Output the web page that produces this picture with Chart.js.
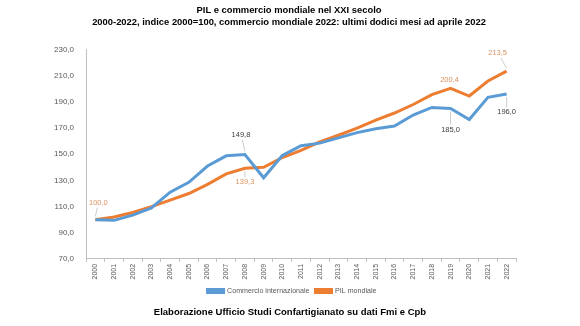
<!DOCTYPE html>
<html>
<head>
<meta charset="utf-8">
<script src="https://cdn.jsdelivr.net/npm/chart.js@4.4.0/dist/chart.umd.min.js"></script>
<style>
    body { margin: 0; background: #fff; }
    #wrap { width: 580px; height: 326px; }
</style>
</head>
<body>
<div id="wrap"><canvas id="chart" width="580" height="326"></canvas></div>
<script>
const years = ['2000', '2001', '2002', '2003', '2004', '2005', '2006', '2007', '2008', '2009', '2010', '2011',
    '2012', '2013', '2014', '2015', '2016', '2017', '2018', '2019', '2020', '2021', '2022'];
const commercio = [100.0, 99.5, 103.5, 109.0, 121.0, 128.5, 141.0, 148.8, 149.8, 132.0, 149.0, 156.5,
    158.5, 162.5, 166.5, 169.5, 171.5, 180.0, 185.8, 185.0, 176.5, 193.5, 196.0];
const pil = [100.0, 102.0, 105.5, 110.0, 115.0, 120.0, 127.0, 135.0, 139.3, 140.0, 147.5, 153.0,
    159.5, 164.5, 170.0, 176.0, 181.5, 188.0, 195.5, 200.4, 194.5, 206.0, 213.5];
const yTicks = [70, 90, 110, 130, 150, 170, 190, 210, 230];

// labelled points: series, index, offset of the label from the point
const callouts = [
    { series: 1, index: 0, dx: 3, dy: -17, color: '#D99260' },
    { series: 0, index: 8, dx: -4, dy: -20, color: '#404040' },
    { series: 1, index: 8, dx: 0, dy: 14, color: '#D99260' },
    { series: 1, index: 19, dx: -1, dy: -8, color: '#D99260' },
    { series: 0, index: 19, dx: 0, dy: 21, color: '#404040' },
    { series: 1, index: 22, dx: -9, dy: -18, color: '#D99260' },
    { series: 0, index: 22, dx: 0, dy: 18, color: '#404040' }
];

const FONT = '"Liberation Sans", Arial, sans-serif';

function fmt(v) {
    return v.toFixed(1).replace('.', ',');
}

const calloutPlugin = {
    id: 'callouts',
    afterDatasetsDraw(chart) {
        const ctx = chart.ctx;
        const xs = chart.scales.x;
        const ys = chart.scales.y;
        ctx.save();
        ctx.font = '7.5px ' + FONT;
        ctx.textAlign = 'center';
        ctx.textBaseline = 'middle';
        callouts.forEach(c => {
            const v = chart.data.datasets[c.series].data[c.index];
            const px = xs.getPixelForValue(c.index);
            const py = ys.getPixelForValue(v);
            const lx = px + c.dx;
            const ly = py + c.dy;
            if (Math.abs(c.dy) > 12) {
                ctx.strokeStyle = '#BFBFBF';
                ctx.lineWidth = 0.8;
                ctx.beginPath();
                ctx.moveTo(lx + (px - lx) * 0.35, ly + (c.dy < 0 ? 5 : -5));
                ctx.lineTo(px, py + (c.dy < 0 ? -3 : 3));
                ctx.stroke();
            }
            ctx.fillStyle = c.color;
            ctx.fillText(fmt(v), lx, ly);
        });
        ctx.restore();
    }
};

// texts in the picture sit a little right of the canvas centre
const shiftTexts = {
    id: 'shiftTexts',
    afterLayout(chart) {
        chart.boxes.forEach(b => {
            if (b.axis) return;
            const dx = b === chart.legend ? 9 : (b === chart.titleBlock ? 6 : 7);
            b.left += dx;
            b.right += dx;
        });
    }
};

new Chart(document.getElementById('chart'), {
    type: 'line',
    data: {
        labels: years,
        datasets: [
            {
                label: 'Commercio internazionale',
                data: commercio,
                borderColor: '#5B9BD5',
                backgroundColor: '#5B9BD5',
                borderWidth: 3,
                pointRadius: 0,
                tension: 0
            },
            {
                label: 'PIL mondiale',
                data: pil,
                borderColor: '#ED7D31',
                backgroundColor: '#ED7D31',
                borderWidth: 3,
                pointRadius: 0,
                tension: 0
            }
        ]
    },
    options: {
        responsive: false,
        animation: false,
        layout: { padding: { left: 50, right: 64, top: 0, bottom: 4 } },
        plugins: {
            title: {
                display: true,
                text: ['PIL e commercio mondiale nel XXI secolo',
                    '2000-2022, indice 2000=100, commercio mondiale 2022: ultimi dodici mesi ad aprile 2022'],
                color: '#000',
                font: { family: FONT, size: 9.4, weight: 'bold' },
                lineHeight: 1.5,
                padding: { top: 5, bottom: 22 }
            },
            subtitle: {
                display: true,
                position: 'bottom',
                text: 'Elaborazione Ufficio Studi Confartigianato su dati Fmi e Cpb',
                color: '#000',
                font: { family: FONT, size: 9.5, weight: 'bold' },
                padding: { top: 2, bottom: 4 }
            },
            legend: {
                position: 'bottom',
                labels: {
                    boxWidth: 16,
                    boxHeight: 3,
                    padding: 6,
                    color: '#595959',
                    font: { family: FONT, size: 7.1 }
                }
            },
            tooltip: { enabled: false }
        },
        scales: {
            x: {
                offset: true,
                grid: {
                    display: true,
                    drawOnChartArea: false,
                    drawTicks: true,
                    tickLength: 3,
                    offset: true,
                    color: '#BFBFBF'
                },
                border: { color: '#BFBFBF' },
                ticks: {
                    minRotation: 90,
                    maxRotation: 90,
                    autoSkip: false,
                    padding: 2,
                    color: '#595959',
                    font: { family: FONT, size: 7 }
                }
            },
            y: {
                min: 70,
                max: 230,
                afterBuildTicks: axis => {
                    axis.ticks = yTicks.map(v => ({ value: v }));
                },
                grid: { display: false },
                border: { color: '#BFBFBF' },
                ticks: {
                    padding: 4,
                    color: '#595959',
                    font: { family: FONT, size: 8 },
                    callback: v => fmt(v)
                }
            }
        }
    },
    plugins: [calloutPlugin, shiftTexts]
});
</script>
</body>
</html>
